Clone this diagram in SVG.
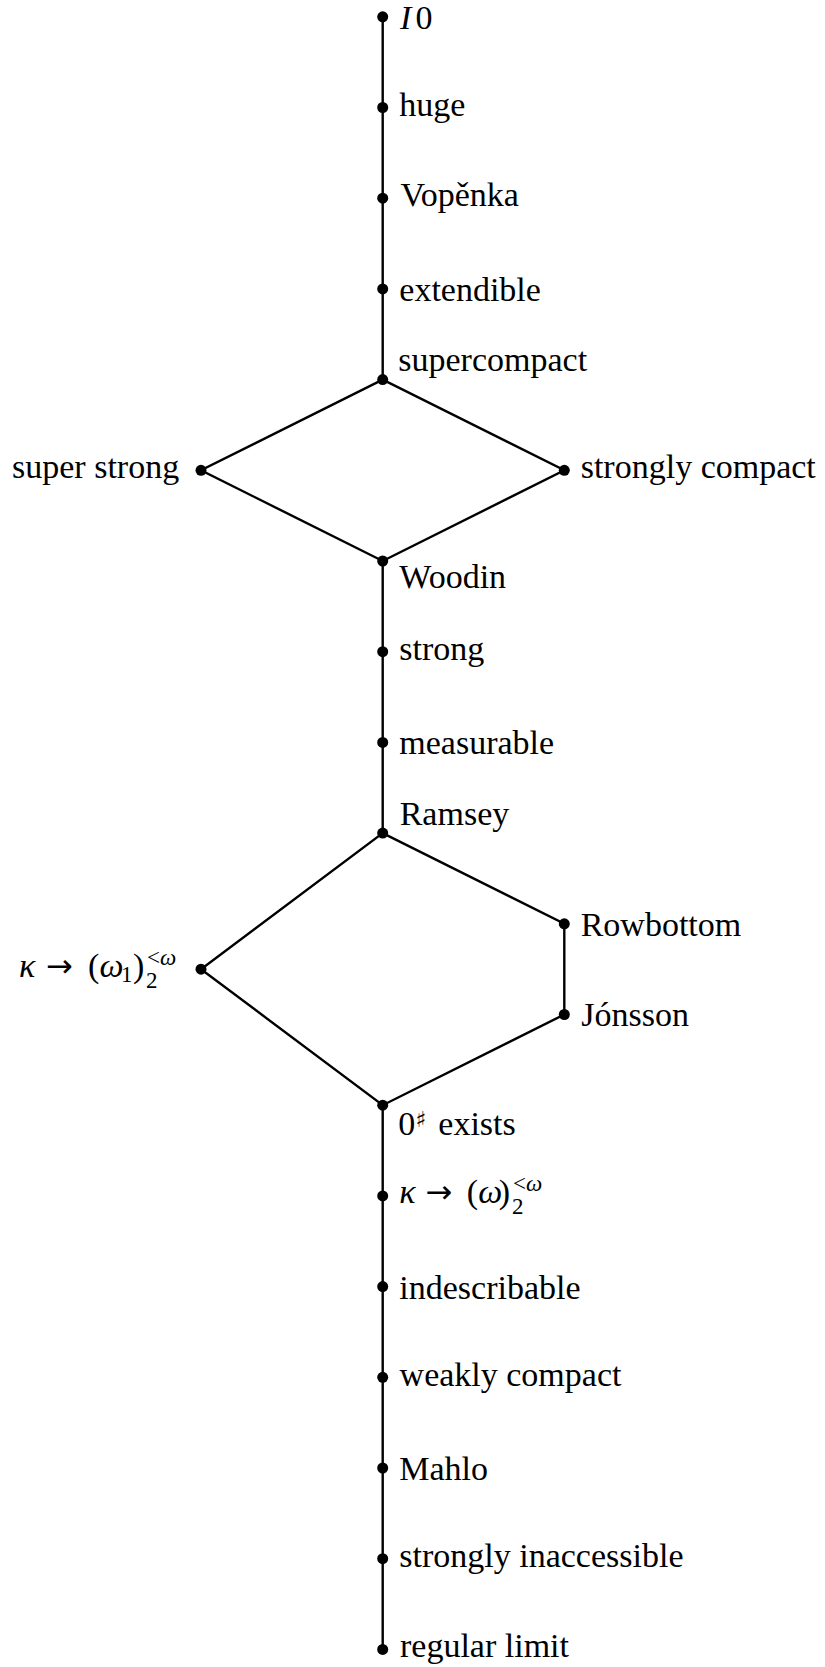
<svg xmlns="http://www.w3.org/2000/svg" width="825" height="1667" viewBox="0 0 825 1667">
<style>
.e{fill:none;stroke:#000;stroke-width:2.4;stroke-linejoin:miter}
.d{fill:#000}
.t{font-size:34px;fill:#000}
.i{font-style:italic}
.s{font-size:23px;fill:#000}
.ar{font-size:32px;fill:#000}
.sh{font-size:22px;fill:#000}
</style>
<rect x="0" y="0" width="825" height="1667" fill="#fff"/>
<g id="connectors">
<path class="e" d="M382.7 16.8V379.6"/>
<path class="e" d="M382.7 379.6L201 470.3L382.7 561L564.3 470.3Z"/>
<path class="e" d="M382.7 561V833.1"/>
<path class="e" d="M382.7 833.1L564.3 923.8V1014.5L382.7 1105.2L201 969.2Z"/>
<path class="e" d="M382.7 1105.2V1649.4"/>
</g>
<g font-family="Liberation Serif, serif">
<g id="n-I0"><circle class="d" cx="382.7" cy="16.8" r="5.5"/><text class="t i" x="400" y="29.3" font-family="Liberation Serif">I</text><text class="t" x="415.5" y="29.3" font-family="Liberation Serif">0</text></g>
<g id="n-huge"><circle class="d" cx="382.7" cy="107.5" r="5.5"/><text class="t" x="399.3" y="115.5" font-family="Liberation Serif">huge</text></g>
<g id="n-vopenka"><circle class="d" cx="382.7" cy="198.2" r="5.5"/><text class="t" x="400.5" y="206.3" font-family="Liberation Serif">Vopěnka</text></g>
<g id="n-extendible"><circle class="d" cx="382.7" cy="288.9" r="5.5"/><text class="t" x="399.3" y="300.5" font-family="Liberation Serif">extendible</text></g>
<g id="n-supercompact"><circle class="d" cx="382.7" cy="379.6" r="5.5"/><text class="t" x="398.3" y="370.8" font-family="Liberation Serif">supercompact</text></g>
<g id="n-superstrong"><circle class="d" cx="201" cy="470.3" r="5.5"/><text class="t" x="12" y="478.3" font-family="Liberation Serif">super strong</text></g>
<g id="n-stronglycompact"><circle class="d" cx="564.3" cy="470.3" r="5.5"/><text class="t" x="580.7" y="478.3" font-family="Liberation Serif">strongly compact</text></g>
<g id="n-woodin"><circle class="d" cx="382.7" cy="561" r="5.5"/><text class="t" x="399.3" y="588" font-family="Liberation Serif">Woodin</text></g>
<g id="n-strong"><circle class="d" cx="382.7" cy="651.7" r="5.5"/><text class="t" x="399.3" y="659.5" font-family="Liberation Serif">strong</text></g>
<g id="n-measurable"><circle class="d" cx="382.7" cy="742.4" r="5.5"/><text class="t" x="399.3" y="753.5" font-family="Liberation Serif">measurable</text></g>
<g id="n-ramsey"><circle class="d" cx="382.7" cy="833.1" r="5.5"/><text class="t" x="399.7" y="825" font-family="Liberation Serif">Ramsey</text></g>
<g id="n-rowbottom"><circle class="d" cx="564.3" cy="923.8" r="5.5"/><text class="t" x="580.7" y="935.5" font-family="Liberation Serif">Rowbottom</text></g>
<g id="n-jonsson"><circle class="d" cx="564.3" cy="1014.5" r="5.5"/><text class="t" x="581.2" y="1026" font-family="Liberation Serif">Jónsson</text></g>
<g id="n-kappa-omega1"><circle class="d" cx="201" cy="969.2" r="5.5"/>
<text class="t i" x="19" y="977" font-family="Liberation Serif">κ</text>
<text class="ar" x="46" y="977" font-family="DejaVu Sans">→</text>
<text class="t" x="88" y="977" font-family="Liberation Serif">(</text>
<text class="t i" x="99.5" y="977" font-family="Liberation Serif">ω</text>
<text class="s" x="121" y="982" font-family="Liberation Serif">1</text>
<text class="t" x="133" y="977" font-family="Liberation Serif">)</text>
<text class="s" x="146" y="988" font-family="Liberation Serif">2</text>
<text class="s" x="147" y="964.5" font-family="Liberation Serif">&lt;<tspan class="i">ω</tspan></text>
</g>
<g id="n-zerosharp"><circle class="d" cx="382.7" cy="1105.2" r="5.5"/><text class="t" x="398.3" y="1135" font-family="Liberation Serif">0</text><text class="sh" x="415.5" y="1127" font-family="DejaVu Sans">♯</text><text class="t" x="438.3" y="1135" font-family="Liberation Serif">exists</text></g>
<g id="n-kappa-omega"><circle class="d" cx="382.7" cy="1195.9" r="5.5"/>
<text class="t i" x="399.3" y="1203.3" font-family="Liberation Serif">κ</text>
<text class="ar" x="425.5" y="1203.3" font-family="DejaVu Sans">→</text>
<text class="t" x="466.8" y="1203.3" font-family="Liberation Serif">(</text>
<text class="t i" x="478.3" y="1203.3" font-family="Liberation Serif">ω</text>
<text class="t" x="498.8" y="1203.3" font-family="Liberation Serif">)</text>
<text class="s" x="512" y="1214.3" font-family="Liberation Serif">2</text>
<text class="s" x="513" y="1190.8" font-family="Liberation Serif">&lt;<tspan class="i">ω</tspan></text>
</g>
<g id="n-indescribable"><circle class="d" cx="382.7" cy="1286.6" r="5.5"/><text class="t" x="399.3" y="1298.5" font-family="Liberation Serif">indescribable</text></g>
<g id="n-weaklycompact"><circle class="d" cx="382.7" cy="1377.3" r="5.5"/><text class="t" x="399.6" y="1385.5" font-family="Liberation Serif">weakly compact</text></g>
<g id="n-mahlo"><circle class="d" cx="382.7" cy="1468" r="5.5"/><text class="t" x="399.3" y="1480" font-family="Liberation Serif">Mahlo</text></g>
<g id="n-stronglyinaccessible"><circle class="d" cx="382.7" cy="1558.7" r="5.5"/><text class="t" x="399.3" y="1566.7" font-family="Liberation Serif">strongly inaccessible</text></g>
<g id="n-regularlimit"><circle class="d" cx="382.7" cy="1649.4" r="5.5"/><text class="t" x="400" y="1657.4" font-family="Liberation Serif">regular limit</text></g>
</g>
</svg>
